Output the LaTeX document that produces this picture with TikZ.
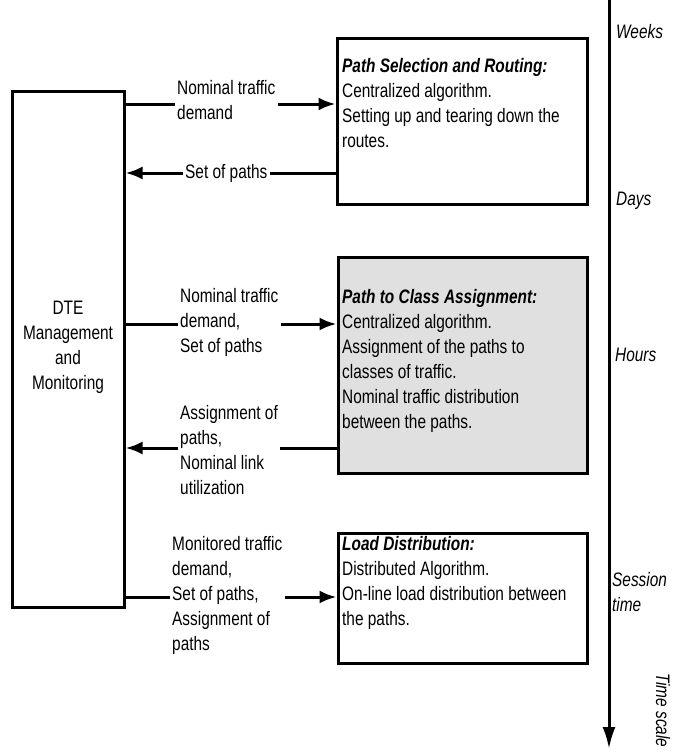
\documentclass[tikz,border=0pt]{standalone}
\usepackage{fontspec}
\setmainfont{Liberation Sans}[FakeStretch=0.79]
\usetikzlibrary{arrows.meta}
\begin{document}
\begin{tikzpicture}[x=1pt,y=-1pt,
  font=\fontsize{19.5}{25}\selectfont,
  boxshape/.style={draw, line width=3pt, inner sep=0pt},
  txt/.style={inner sep=2pt, align=left, anchor=west,
    execute at begin node=\strut, execute at end node=\strut},
  conn/.style={line width=3pt},
  tip/.style={-{Latex[length=17pt,width=13pt]}},
  tscale/.style={inner sep=1pt, anchor=west, font=\fontsize{19.5}{25}\selectfont\itshape,
    execute at begin node=\strut, execute at end node=\strut, align=left}
]
\useasboundingbox (0,0) rectangle (678,753);

% left box
\node[boxshape, minimum width=112pt, minimum height=516pt, align=center,
  execute at begin node=\strut, execute at end node=\strut] (dte) at (68,349)
  {DTE\\Management\\and\\Monitoring};

% right boxes
\node[boxshape, minimum width=250pt, minimum height=166pt] (box1) at (462,121) {};
\node[boxshape, fill=black!12, minimum width=249pt, minimum height=216pt] (box2) at (462.5,365) {};
\node[boxshape, minimum width=249pt, minimum height=130pt] (box3) at (462.5,598) {};

\node[txt] (t1) at (340,106.5) {\textbf{\textit{Path Selection and Routing:}}\\Centralized algorithm.\\Setting up and tearing down the\\routes.};
\node[txt] (t2) at (340,363) {\textbf{\textit{Path to Class Assignment:}}\\Centralized algorithm.\\Assignment of the paths to\\classes of traffic.\\Nominal traffic distribution\\between the paths.};
\node[txt] (t3) at (340,585) {\textbf{\textit{Load Distribution:}}\\Distributed Algorithm.\\On-line load distribution between\\the paths.};

% labels
\node[txt] (lab1) at (175,104) {Nominal traffic\\demand};
\node[txt] (lab2) at (183,173) {Set of paths};
\node[txt] (lab3) at (178,324) {Nominal traffic\\demand,\\Set of paths};
\node[txt] (lab4) at (178,453.5) {Assignment of\\paths,\\Nominal link\\utilization};
\node[txt] (lab5) at (170,597) {Monitored traffic\\demand,\\Set of paths,\\Assignment of\\paths};

% connectors
\draw[conn] (dte.east |- lab1.west) -- (lab1.west);
\draw[conn,tip] (lab1.east) -- (box1.west |- lab1.east);

\draw[conn] (box1.west |- lab2.east) -- (lab2.east);
\draw[conn,tip] (lab2.west) -- (dte.east |- lab2.west);

\draw[conn] (dte.east |- lab3.west) -- (lab3.west);
\draw[conn,tip] (lab3.east) -- (box2.west |- lab3.east);

\coordinate (a4) at (0,448);
\draw[conn] (box2.west |- a4) -- (lab4.east |- a4);
\draw[conn,tip] (lab4.west |- a4) -- (dte.east |- a4);

\draw[conn] (dte.east |- lab5.west) -- (lab5.west);
\draw[conn,tip] (lab5.east) -- (box3.west |- lab5.east);

% time axis
\coordinate (ttop) at (609,0);
\coordinate (tbot) at (609,749);
\draw[conn,-{Latex[length=22pt,width=13pt]}] (ttop) -- (tbot);

\node[tscale] (weeks) at (615,33) {Weeks};
\node[tscale] (days) at (615,200) {Days};
\node[tscale] (hours) at (614,356) {Hours};
\node[tscale] (session) at (611,595.5) {Session\\time};
\node[tscale, rotate=-90] (tsc) at (661,672) {Time scale};
\end{tikzpicture}
\end{document}
